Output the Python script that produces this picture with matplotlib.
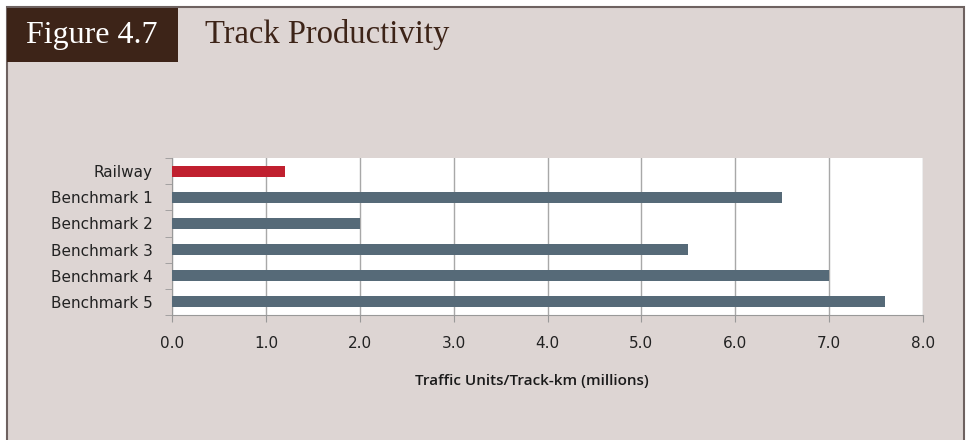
import numpy as np
import matplotlib.pyplot as plt
from matplotlib.patches import Rectangle

categories = ['Railway', 'Benchmark 1', 'Benchmark 2', 'Benchmark 3', 'Benchmark 4', 'Benchmark 5']
values = [1.2, 6.5, 2.0, 5.5, 7.0, 7.6]
bar_colors = ['#c0202f', '#566a78', '#566a78', '#566a78', '#566a78', '#566a78']
xticks = np.arange(0, 9, 1)

plt.rcParams['font.family'] = ['DejaVu Sans']

W, H = 967, 440
fig = plt.figure(figsize=(W / 100, H / 100), dpi=100)
fig.patch.set_facecolor('white')

# panel background and border
fig.patches.append(Rectangle((7 / W, -0.01), (964 - 7) / W, 1.01 - 7 / H, transform=fig.transFigure,
                             facecolor='#ddd5d3', edgecolor='#6e6260', linewidth=1.5, zorder=-2))
# figure number tab
fig.patches.append(Rectangle((7 / W, 1 - 62 / H), (178 - 7) / W, (62 - 8) / H, transform=fig.transFigure,
                             facecolor='#3d2418', edgecolor='none', zorder=-1))
fig.text(92 / W, 1 - 36 / H, 'Figure 4.7', color='white', fontsize=23, family='Liberation Serif',
         ha='center', va='center')
fig.text(205 / W, 1 - 35 / H, 'Track Productivity', color='#3d2418', fontsize=23.5, family='Liberation Serif',
         ha='left', va='center')

ax = fig.add_axes([172 / W, 1 - 315 / H, (923 - 172) / W, (315 - 158) / H], zorder=2)
ax.set_facecolor('white')
y = np.arange(len(categories))
ax.barh(y, values, height=0.42, color=bar_colors, zorder=3)
ax.set_ylim(len(categories) - 0.5, -0.5)
ax.set_xlim(0, 8)
ax.set_yticks(y)
ax.set_yticklabels(categories, fontsize=11, color='#222222')
ax.set_yticks(np.arange(-0.5, len(categories)), minor=True)
ax.tick_params(axis='y', which='major', length=0, pad=14)
ax.tick_params(axis='y', which='minor', length=5, color='#999999', direction='out')
ax.set_xticks(xticks)
ax.set_xticklabels(['%.1f' % t for t in xticks], fontsize=11, color='#222222')
ax.tick_params(axis='x', length=5, color='#999999', pad=10)
ax.grid(axis='x', color='#a8a8a8', linewidth=1, zorder=1)
for s in ['top', 'right']:
    ax.spines[s].set_visible(False)
for s in ['left', 'bottom']:
    ax.spines[s].set_color('#999999')
ax.set_xlabel('Traffic Units/Track-km (millions)', fontsize=11, color='#1a1a1a',
              family='Open Sans', fontweight='semibold')
ax.xaxis.set_label_coords(0.479, -0.375)

fig.savefig('out.png', dpi=100, facecolor=fig.get_facecolor())
